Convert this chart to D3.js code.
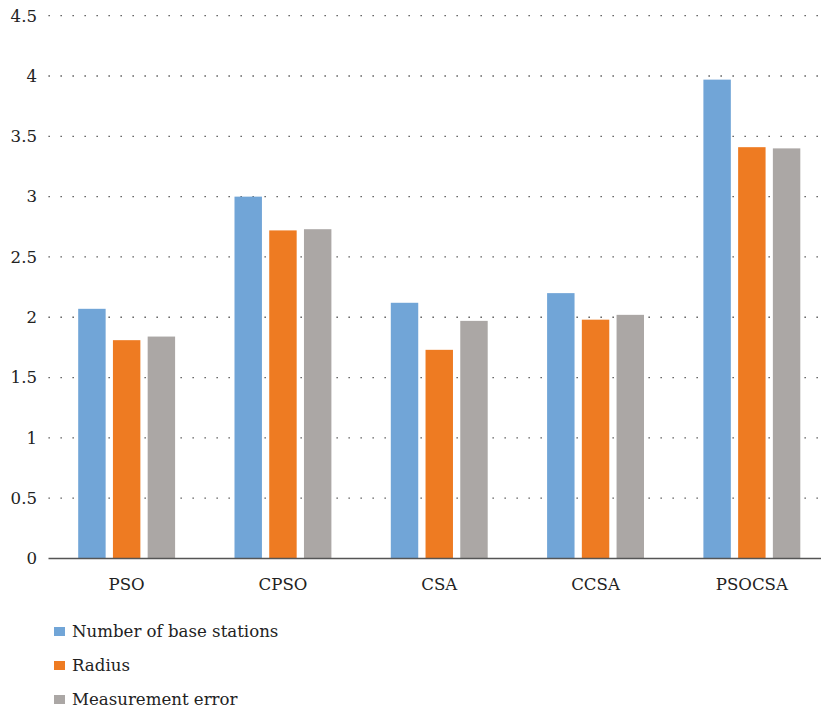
<!DOCTYPE html>
<html>
<head>
<meta charset="utf-8">
<script src="https://cdn.jsdelivr.net/npm/d3@7"></script>
<style>
  html, body { margin: 0; padding: 0; background: #fff; }
  svg { display: block; }
</style>
</head>
<body>
<svg id="chart" width="821" height="711" font-family="'DejaVu Serif', serif"></svg>
<script>
// Algorithms compared
const categories = ["PSO", "CPSO", "CSA", "CCSA", "PSOCSA"];
// Series names and colours
const seriesNames = ["Number of base stations", "Radius", "Measurement error"];
const seriesColors = ["#71a5d7", "#ee7b22", "#aba7a5"];
// Values per series, in category order
const baseStations = [2.07, 3.00, 2.12, 2.20, 3.97];
const radius = [1.81, 2.72, 1.73, 1.98, 3.41];
const measurementError = [1.84, 2.73, 1.97, 2.02, 3.40];
// Y axis ticks
const yTicks = [0, 0.5, 1, 1.5, 2, 2.5, 3, 3.5, 4, 4.5];

const seriesValues = [baseStations, radius, measurementError];
const svg = d3.select("#chart");
const textColor = "#222";
const fontSize = 16.6;

const plot = { left: 48.5, right: 830, top: 15.7, bottom: 558.5 };

const x = d3.scaleBand().domain(categories).range([plot.left, plot.right]).paddingInner(0).paddingOuter(0);
const y = d3.scaleLinear().domain([0, 4.5]).range([plot.bottom, plot.top]);
const inner = d3.scaleBand().domain(d3.range(seriesNames.length))
  .range([x.bandwidth() * 0.19, x.bandwidth() * 0.81]).paddingInner(0.21).paddingOuter(0);

// Dotted gridlines
svg.append("g").selectAll("line").data(yTicks.filter(d => d > 0)).join("line")
  .attr("x1", plot.left).attr("x2", 821)
  .attr("y1", d => y(d)).attr("y2", d => y(d))
  .attr("stroke", "#444").attr("stroke-width", 1.3)
  .attr("stroke-dasharray", "1.3,10.7");

// Y tick labels
svg.append("g").selectAll("text").data(yTicks).join("text")
  .attr("x", 37).attr("y", d => y(d)).attr("dy", "0.35em")
  .attr("text-anchor", "end").attr("font-size", fontSize).attr("fill", textColor)
  .text(d => d);

// Bars
const groups = svg.append("g").selectAll("g").data(categories).join("g")
  .attr("transform", c => `translate(${x(c)},0)`);
groups.selectAll("rect")
  .data((c, ci) => seriesValues.map((vals, si) => ({ si, v: vals[ci] })))
  .join("rect")
  .attr("x", d => inner(d.si))
  .attr("width", inner.bandwidth())
  .attr("y", d => y(d.v))
  .attr("height", d => y(0) - y(d.v))
  .attr("fill", d => seriesColors[d.si]);

// X axis baseline
svg.append("line")
  .attr("x1", plot.left).attr("x2", 821)
  .attr("y1", y(0)).attr("y2", y(0))
  .attr("stroke", "#555").attr("stroke-width", 1.5);

// Category labels
svg.append("g").selectAll("text").data(categories).join("text")
  .attr("x", c => x(c) + x.bandwidth() / 2).attr("y", 590)
  .attr("text-anchor", "middle").attr("font-size", fontSize).attr("fill", textColor)
  .text(c => c);

// Legend
const legend = svg.append("g").selectAll("g").data(seriesNames).join("g")
  .attr("transform", (d, i) => `translate(54, ${627 + i * 34})`);
legend.append("rect").attr("width", 11).attr("height", 9)
  .attr("fill", (d, i) => seriesColors[i]);
legend.append("text").attr("x", 18).attr("y", 9.5)
  .attr("font-size", fontSize).attr("fill", textColor).text(d => d);
</script>
</body>
</html>
